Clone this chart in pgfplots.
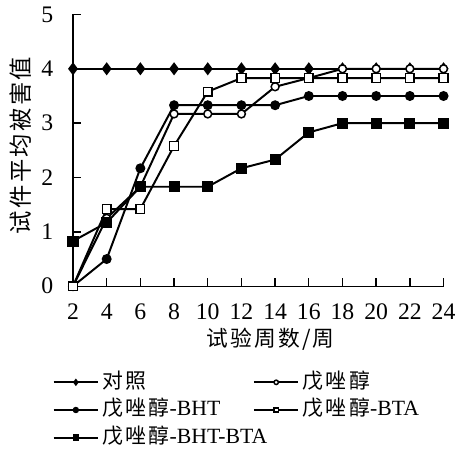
\documentclass[border=0pt]{standalone}
\usepackage{fontspec}
\setmainfont{Liberation Serif}
\newfontfamily\cjk[Scale=0.96, LetterSpace=12]{Noto Sans CJK SC}
\newfontfamily\cjkl[LetterSpace=10]{Noto Sans CJK SC}
\usepackage{pgfplots}
\pgfplotsset{compat=1.18}

\begin{document}
\begin{tikzpicture}
\begin{axis}[
  scale only axis,
  width=187.5pt, height=137.5pt,
  xmin=2, xmax=24, ymin=0, ymax=5,
  axis lines=left,
  axis line style={-, line width=0.7pt},
  xtick={2,4,...,24}, ytick={0,1,...,5},
  tick align=inside,
  major tick length=4pt,
  tick style={black, line width=0.7pt},
  ticklabel style={font=\fontsize{12}{13}\selectfont},
  /pgf/number format/assume math mode=true,
  yticklabel style={xshift=-6.5pt},
  xticklabel style={yshift=-5.5pt},
  xlabel={\cjkl 试验周数/周},
  ylabel={\cjkl 试件平均被害值},
  xlabel style={font=\fontsize{11}{12}\selectfont, at={(axis description cs:0.533,-0.195)}, anchor=center},
  ylabel style={font=\fontsize{11.8}{12}\selectfont, at={(axis description cs:-0.141,0.518)}, anchor=center},
  clip=false,
  every axis plot/.append style={line width=1pt, black},
  legend columns=2,
  legend cell align=left,
  legend image code/.code={
    \draw[mark repeat=2, mark phase=2, #1, mark size=1.1pt]
      plot coordinates {(0pt,0pt) (11.25pt,0pt) (22.5pt,0pt)};
  },
  legend style={
    draw=none, fill=none,
    at={(axis description cs:-0.056,-0.305)}, anchor=north west,
    font=\fontsize{11}{12}\selectfont,
    inner sep=0pt, row sep=1pt,
    nodes={inner sep=1.5pt, text height=8pt, text depth=2pt},
    /tikz/every even column/.append style={column sep=15pt},
  },
]
% control
\addplot[mark=diamond*, mark size=2.5pt, mark options={fill=black}] coordinates {
  (2,4) (4,4) (6,4) (8,4) (10,4) (12,4) (14,4) (16,4) (18,4) (20,4) (22,4) (24,4)};
\addlegendentry{\cjk 对照}
% tebuconazole
\addplot[mark=*, mark size=2pt, mark options={fill=white, line width=0.75pt}] coordinates {
  (2,0) (4,1.25) (6,1.83) (8,3.17) (10,3.17) (12,3.17) (14,3.67) (16,3.83) (18,4) (20,4) (22,4) (24,4)};
\addlegendentry{\cjk 戊唑醇}
% tebuconazole + BHT
\addplot[mark=*, mark size=2pt, mark options={fill=black}] coordinates {
  (2,0) (4,0.5) (6,2.17) (8,3.33) (10,3.33) (12,3.33) (14,3.33) (16,3.5) (18,3.5) (20,3.5) (22,3.5) (24,3.5)};
\addlegendentry{{\cjk 戊唑醇}-BHT}
% tebuconazole + BTA
\addplot[mark=square*, mark size=2.2pt, mark options={fill=white, line width=0.75pt}] coordinates {
  (2,0) (4,1.42) (6,1.42) (8,2.58) (10,3.58) (12,3.83) (14,3.83) (16,3.83) (18,3.83) (20,3.83) (22,3.83) (24,3.83)};
\addlegendentry{{\cjk 戊唑醇}-BTA}
% tebuconazole + BHT + BTA
\addplot[mark=square*, mark size=2.3pt, mark options={fill=black}] coordinates {
  (2,0.83) (4,1.17) (6,1.83) (8,1.83) (10,1.83) (12,2.17) (14,2.33) (16,2.83) (18,3) (20,3) (22,3) (24,3)};
\addlegendentry{\rlap{{\cjk 戊唑醇}-BHT-BTA}}
% page extent around the plot
\path (axis description cs:-0.197,-0.613) rectangle (axis description cs:1.035,1.052);
\end{axis}
\end{tikzpicture}
\end{document}
